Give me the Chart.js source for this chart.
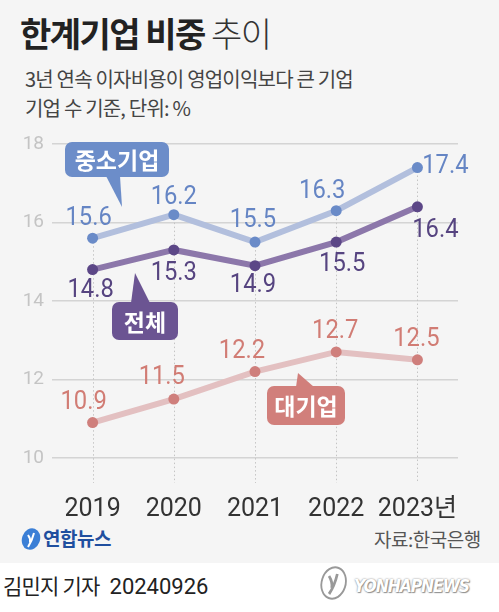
<!DOCTYPE html>
<html>
<head>
<meta charset="utf-8">
<script src="https://cdn.jsdelivr.net/npm/chart.js@4"></script>
<style>
html, body { margin: 0; padding: 0; }
body { width: 499px; height: 612px; position: relative; overflow: hidden; background: #f5f5f5; font-family: 'Noto Sans CJK KR', sans-serif; }
#c { position: absolute; left: 0; top: 0; }
.t { position: absolute; white-space: nowrap; transform-origin: 0 50%; }
#title { left: 20px; top: 12px; font-size: 34px; line-height: 42px; color: #222; letter-spacing: -1.5px; }
#title b { font-weight: 700; }
#title span { font-weight: 300; color: #333; }
#sub1 { left: 25px; top: 64px; font-size: 20px; line-height: 30px; color: #444; letter-spacing: -0.8px; }
#sub2 { left: 25px; top: 93px; font-size: 20px; line-height: 30px; color: #444; letter-spacing: -0.8px; }
#logo { left: 20px; top: 525px; font-size: 19px; line-height: 26px; font-weight: 700; color: #1f4f9f; letter-spacing: -0.5px; }
#logo svg { vertical-align: -5px; margin-right: 1px; }
#source { left: 374px; top: 526px; font-size: 19px; line-height: 26px; color: #555; letter-spacing: -0.5px; }
#foot { position: absolute; left: 0; top: 563px; width: 499px; height: 49px; background: #fff; }
#byline { left: 3px; top: 570px; font-size: 21px; line-height: 30px; color: #222; letter-spacing: -0.8px; }
#byline span { font-family: Roboto, sans-serif; font-size: 22px; margin-left: 10px; letter-spacing: 0; }
#wm { left: 318px; top: 565px; font-family: 'DejaVu Sans', sans-serif; font-weight: 700; font-style: italic; font-size: 17px; line-height: 34px; color: #fff; text-shadow: 0 0 2px #777, 1px 1px 1px #999; letter-spacing: -1.2px; transform: scaleX(0.92); }
#wm svg { vertical-align: -9px; margin-right: 5px; }
</style>
</head>
<body>
<div id="foot"></div>
<div class="t" id="title"><b>한계기업 비중</b> <span>추이</span></div>
<div class="t" id="sub1">3년 연속 이자비용이 영업이익보다 큰 기업</div>
<div class="t" id="sub2">기업 수 기준, 단위: %</div>
<div class="t" id="logo"><svg width="22" height="24" viewBox="0 0 22 24"><ellipse cx="11" cy="12" rx="9" ry="11" transform="rotate(20 11 12)" fill="#3b7fd6"/><path d="M8 8 q3 4 2 8 M14 6 q-2 8 -6 14" stroke="#fff" stroke-width="2" fill="none"/></svg>연합뉴스</div>
<div class="t" id="source">자료:한국은행</div>
<div class="t" id="byline">김민지 기자<span>20240926</span></div>
<div class="t" id="wm"><svg width="34" height="36" viewBox="0 0 34 36"><ellipse cx="17" cy="18" rx="13" ry="16" transform="rotate(20 17 18)" fill="#fff" stroke="#999" stroke-width="2"/><path d="M12 11 q4 6 3 12 M21 9 q-3 12 -9 20" stroke="#999" stroke-width="3" fill="none"/></svg>YONHAPNEWS</div>
<canvas id="c" width="499" height="612"></canvas>
<script>
var years = ['2019', '2020', '2021', '2022', '2023년'];
var smeValues = [15.6, 16.2, 15.5, 16.3, 17.4];
var totalValues = [14.8, 15.3, 14.9, 15.5, 16.4];
var largeValues = [10.9, 11.5, 12.2, 12.7, 12.5];
var yTicks = [10, 12, 14, 16, 18];

// label offsets from each point (pixels)
var smeLabelDx = [-4, 0, -2, -14, 28];
var smeLabelDy = [-20, -18, -22, -20, -2];
var totalLabelDx = [-2, 0, -2, 6, 18];
var totalLabelDy = [20, 23, 19, 22, 23];
var largeLabelDx = [-9, -12, -13, -1, -1];
var largeLabelDy = [-21, -22, -21, -21, -21];

var numFont = "'Liberation Sans Narrow', Roboto, sans-serif";

var callouts = [
    { text: '중소기업', x: 65, y: 142, w: 104, h: 35, color: '#6c8dc9', tail: [[106, 176], [122, 207], [120, 176]] },
    { text: '전체', x: 112, y: 302, w: 66, h: 38, color: '#6b5492', tail: [[131, 303], [135, 273], [150, 303]] },
    { text: '대기업', x: 267, y: 386, w: 78, h: 39, color: '#d17f7b', tail: [[296, 387], [298, 373], [314, 387]] }
];

var guideLines = {
    id: 'guideLines',
    beforeDatasetsDraw: function (chart) {
        var ctx = chart.ctx;
        var area = chart.chartArea;
        ctx.save();
        ctx.strokeStyle = '#c4c4c4';
        ctx.lineWidth = 1;
        ctx.setLineDash([1.5, 2.5]);
        chart.getDatasetMeta(0).data.forEach(function (pt, i) {
            var top = Math.min.apply(null, chart.data.datasets.map(function (ds, d) {
                return chart.getDatasetMeta(d).data[i].y;
            }));
            ctx.beginPath();
            ctx.moveTo(Math.round(pt.x) + 0.5, top);
            ctx.lineTo(Math.round(pt.x) + 0.5, area.bottom);
            ctx.stroke();
        });
        ctx.restore();
    }
};

var valueLabels = {
    id: 'valueLabels',
    afterDatasetsDraw: function (chart) {
        var ctx = chart.ctx;
        chart.data.datasets.forEach(function (ds, d) {
            chart.getDatasetMeta(d).data.forEach(function (pt, i) {
                ctx.save();
                ctx.translate(pt.x + ds.labelDx[i], pt.y + ds.labelDy[i]);
                ctx.scale(0.95, 1);
                ctx.font = '25px ' + numFont;
                ctx.fillStyle = ds.labelColor;
                ctx.textAlign = 'center';
                ctx.textBaseline = 'middle';
                ctx.fillText(ds.data[i].toFixed(1), 0, 1);
                ctx.restore();
            });
        });
    }
};

var calloutBoxes = {
    id: 'calloutBoxes',
    afterDatasetsDraw: function (chart) {
        var ctx = chart.ctx;
        callouts.forEach(function (c) {
            ctx.save();
            ctx.fillStyle = c.color;
            ctx.beginPath();
            ctx.roundRect(c.x, c.y, c.w, c.h, 7);
            ctx.fill();
            ctx.beginPath();
            ctx.moveTo(c.tail[0][0], c.tail[0][1]);
            ctx.lineTo(c.tail[1][0], c.tail[1][1]);
            ctx.lineTo(c.tail[2][0], c.tail[2][1]);
            ctx.closePath();
            ctx.fill();
            ctx.fillStyle = '#fff';
            ctx.font = "bold 23px 'Noto Sans CJK KR', sans-serif";
            ctx.textAlign = 'center';
            ctx.textBaseline = 'middle';
            ctx.fillText(c.text, c.x + c.w / 2, c.y + c.h / 2 + 1);
            ctx.restore();
        });
    }
};

new Chart(document.getElementById('c').getContext('2d'), {
    type: 'line',
    data: {
        labels: years,
        datasets: [
            {
                label: '중소기업',
                data: smeValues,
                borderColor: '#b2bfdd',
                pointBackgroundColor: '#6a8bc8',
                labelColor: '#6585c4',
                labelDx: smeLabelDx,
                labelDy: smeLabelDy
            },
            {
                label: '전체',
                data: totalValues,
                borderColor: '#8c77aa',
                pointBackgroundColor: '#5c4787',
                labelColor: '#564480',
                labelDx: totalLabelDx,
                labelDy: totalLabelDy
            },
            {
                label: '대기업',
                data: largeValues,
                borderColor: '#e3c0c1',
                pointBackgroundColor: '#cf7f7c',
                labelColor: '#d17c74',
                labelDx: largeLabelDx,
                labelDy: largeLabelDy
            }
        ]
    },
    options: {
        responsive: false,
        animation: false,
        devicePixelRatio: 1,
        layout: { padding: { top: 144, right: 41, bottom: 89, left: 0 } },
        elements: {
            line: { borderWidth: 6, tension: 0 },
            point: { radius: 5.5, borderWidth: 0, hoverRadius: 5.5 }
        },
        plugins: {
            legend: { display: false },
            tooltip: { enabled: false }
        },
        scales: {
            x: {
                offset: true,
                grid: { display: false },
                border: { display: false },
                afterFit: function (scale) { scale.height = 40; },
                ticks: {
                    color: '#333',
                    padding: 4,
                    maxRotation: 0,
                    autoSkip: false,
                    font: { family: numFont + ", 'Noto Sans CJK KR'", size: 25 }
                }
            },
            y: {
                min: 9.36,
                max: 18,
                afterBuildTicks: function (axis) {
                    axis.ticks = yTicks.map(function (v) { return { value: v }; });
                },
                afterFit: function (scale) { scale.width = 52; },
                grid: { color: '#d4d4d4', lineWidth: 1.5, drawTicks: false },
                border: { display: false },
                ticks: {
                    color: '#c4c4c4',
                    padding: 8,
                    font: { family: 'Roboto, sans-serif', size: 19 }
                }
            }
        }
    },
    plugins: [guideLines, valueLabels, calloutBoxes]
});
</script>
</body>
</html>
